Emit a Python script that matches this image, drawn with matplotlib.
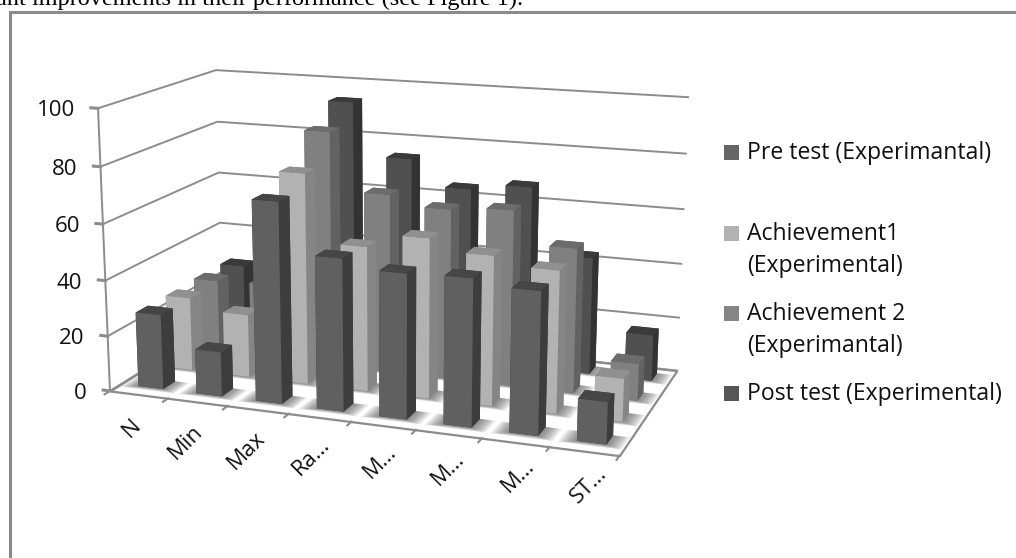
import numpy as np
import matplotlib
matplotlib.use("Agg")
import matplotlib.pyplot as plt
from matplotlib.patches import Rectangle
from mpl_toolkits.mplot3d import proj3d
from mpl_toolkits.mplot3d.art3d import Poly3DCollection

W, H = 1016, 558

categories = ["N", "Min", "Max", "Ra…", "M…", "M…", "M…", "ST…"]
series_names = ["Pre test (Experimantal)", "Achievement1\n(Experimental)",
                "Achievement 2\n(Experimantal)", "Post test (Experimental)"]
pre_test = [27, 16, 71, 53.5, 50.5, 51, 49, 14.4]
achievement1 = [27, 23, 76, 52, 57, 53, 50, 15]
achievement2 = [27.5, 28, 86.5, 65.5, 62, 63.5, 52, 13.2]
post_test = [27.5, 31, 93.5, 74, 64.5, 67, 43, 16.8]
y_ticks = [0, 20, 40, 60, 80, 100]
intro_line = "ant improvements in their performance (see Figure 1)."

# front, side and top colours for each series
front_colors = ["#606060", "#b2b2b2", "#808080", "#505050"]
side_colors = ["#3d3d3d", "#858585", "#626262", "#333333"]
top_colors = ["#464646", "#909090", "#6c6c6c", "#3a3a3a"]
legend_colors = ["#666666", "#b2b2b2", "#858585", "#565656"]
grid_color = "#8c8c8c"

plt.rcParams["font.family"] = ["Open Sans", "DejaVu Sans"]
fig = plt.figure(figsize=(W / 100, H / 100), dpi=100, facecolor="white")

L, left, bottom = 629.5, 75.1, -9.65
ax = fig.add_axes([left / W, bottom / H, L / W, L / H], projection="3d",
                  computed_zorder=False)
ax.set_axis_off()
ax.patch.set_alpha(0)
ax.set_xlim(0, len(categories))
ax.set_ylim(0, len(series_names))
ax.set_zlim(0, 100)
ax.view_init(elev=14.27, azim=-69.89, roll=0)
ax.set_proj_type("persp", focal_length=0.5187)
ax.set_box_aspect((1, 0.4982, 0.5507))

n_cat, n_ser = len(categories), len(series_names)

# floor, with its border
floor = [[(0, 0, 0), (n_cat, 0, 0), (n_cat, n_ser, 0), (0, n_ser, 0)]]
ax.add_collection3d(Poly3DCollection(floor, facecolors="white", edgecolors=grid_color,
                                     linewidths=1.6, zorder=1))

# gridlines around the left and back walls
for v in y_ticks:
    ax.plot([0, 0, n_cat], [0, n_ser, n_ser], [v, v, v], color=grid_color, lw=1.4, zorder=2)
    ax.plot([-0.12, 0], [0, 0], [v, v], color=grid_color, lw=2.2, zorder=2)
ax.plot([0, 0], [0, 0], [0, 100], color=grid_color, lw=1.4, zorder=2)

# tick marks under the front edge
for i in range(n_cat + 1):
    ax.plot([i, i], [0, -0.17], [0, 0], color=grid_color, lw=1.5, zorder=2)

all_series = [pre_test, achievement1, achievement2, post_test]
bar_w, bar_d = 0.43, 0.40
pad_x, pad_y = 0.30, 0.36

# soft contact shadows on the floor
for j in reversed(range(n_ser)):
    for i in range(n_cat):
        x0, y0 = i + pad_x, j + pad_y
        for g in np.linspace(0.25, 0.02, 12):
            poly = [[(x0 - g, y0 - g * 0.5, 0), (x0 + bar_w + g, y0 - g * 0.5, 0),
                     (x0 + bar_w + g, y0 + bar_d, 0), (x0 - g, y0 + bar_d, 0)]]
            ax.add_collection3d(Poly3DCollection(poly, facecolors=(0.3, 0.3, 0.3, 0.075),
                                                 edgecolors="none", zorder=3))

# bars, painted from the back row forward and left to right
order = 10
for j in reversed(range(n_ser)):
    for i in range(n_cat):
        h = all_series[j][i]
        # face order: bottom, top, front, back, left, right
        faces = [side_colors[j], top_colors[j], front_colors[j],
                 side_colors[j], side_colors[j], side_colors[j]]
        ax.bar3d(i + pad_x, j + pad_y, 0, bar_w, bar_d, h, color=faces, shade=False,
                 edgecolor="none", zorder=order)
        order += 1

# value and category labels, offset from their projected anchor points
M = ax.get_proj()
for v in y_ticks:
    X, Y, _ = proj3d.proj_transform(0, 0, v, M)
    ax.annotate(str(v), xy=(X, Y), xycoords="data", xytext=(-23, -2.5), textcoords="offset pixels",
                ha="right", va="center", fontsize=16, color="#111111", zorder=200)
for i, name in enumerate(categories):
    anchor = i + 0.5 + 0.045 * (i - 3.5)
    X, Y, _ = proj3d.proj_transform(anchor, 0, 0, M)
    ax.annotate(name, xy=(X, Y), xycoords="data", xytext=(1, -16 + 1.7 * (i - 3.5)),
                textcoords="offset pixels", ha="right", va="top", rotation=45,
                rotation_mode="anchor", fontsize=16, color="#111111", zorder=200)

# page furniture and legend, placed in pixel coordinates
ov = fig.add_axes([0, 0, 1, 1], zorder=5)
ov.set_xlim(0, W)
ov.set_ylim(H, 0)
ov.set_axis_off()
ov.patch.set_alpha(0)
ov.plot([9.5, 9.5, W + 5], [H + 5, 11.5, 11.5], color="#8a8a8a", lw=2.2,
        solid_joinstyle="miter", clip_on=False)
ov.text(-4, 5, intro_line, family="Liberation Serif", fontsize=17.5, color="black",
        ha="left", va="baseline", clip_on=True)

legend_y = [152, 233, 313, 393]
for y, name, c in zip(legend_y, series_names, legend_colors):
    ov.add_patch(Rectangle((724, y - 7.5), 15, 15, facecolor=c, edgecolor="none"))
    ov.text(747, y - 11, name, fontsize=16.6, color="#111111", ha="left", va="top",
            linespacing=1.45)

fig.savefig("out.png", dpi=100)
